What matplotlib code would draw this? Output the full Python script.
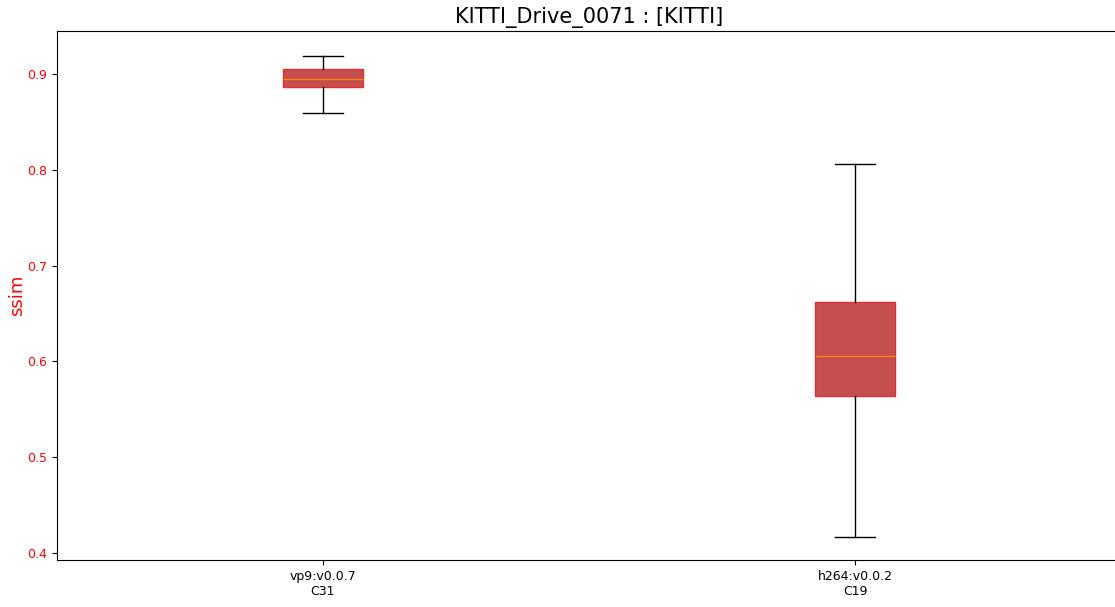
import matplotlib
matplotlib.use("Agg")
import matplotlib.pyplot as plt

# ssim summary per codec run
labels = ["vp9:v0.0.7\nC31", "h264:v0.0.2\nC19"]
whislo = [0.859, 0.417]
q1 = [0.887, 0.564]
med = [0.895, 0.606]
q3 = [0.905, 0.662]
whishi = [0.919, 0.806]

stats = []
for i in range(len(labels)):
    stats.append({"label": labels[i], "whislo": whislo[i], "q1": q1[i], "med": med[i],
                  "q3": q3[i], "whishi": whishi[i], "fliers": []})

fig = plt.figure(figsize=(11.15, 6.07), dpi=100)
ax = fig.add_axes([0.0511, 0.0774, 0.9543, 0.8716])

bp = ax.bxp(stats, widths=0.15, patch_artist=True, showfliers=False)
for box in bp["boxes"]:
    box.set_facecolor("#c44f4e")
    box.set_edgecolor("#e03030")
for m in bp["medians"]:
    m.set_color("#ff7f0e")

ax.set_xlim(0.5, 2.5)
ax.set_ylim(0.3927, 0.945)
ax.set_title("KITTI_Drive_0071 : [KITTI]", fontsize=15)
ax.set_ylabel("ssim", color="red", fontsize=13, labelpad=1)
ax.tick_params(axis="y", colors="black", labelcolor="red", labelsize=9)
ax.tick_params(axis="x", labelsize=9)

fig.savefig("out.png", dpi=100)
